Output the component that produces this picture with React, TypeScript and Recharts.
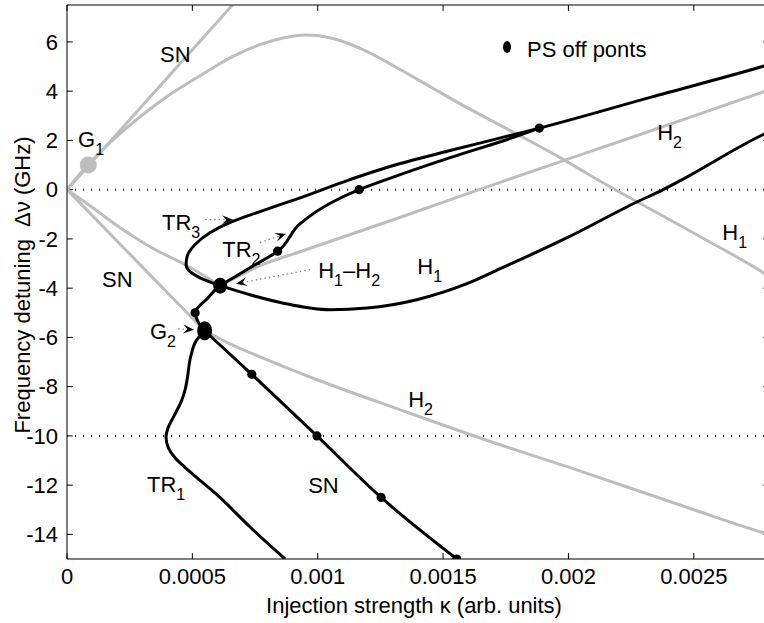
import React from 'react';
import {
  ComposedChart,
  Line,
  Scatter,
  XAxis,
  YAxis,
  ReferenceLine,
  Legend,
} from 'recharts';

type Pt = [number, number];

const FONT = '"Liberation Sans", Arial, Helvetica, sans-serif';
const GRAY = '#bdbdbd';

const X_MAX = 0.0028;
const Y_MIN = -15;
const Y_MAX = 7.5;
const xTicks = [0, 0.0005, 0.001, 0.0015, 0.002, 0.0025];
const yTicks = [-14, -12, -10, -8, -6, -4, -2, 0, 2, 4, 6];

// gray bifurcation lines
const snUpper: Pt[] = [[0, 0], [0.00066, 7.5]];
const h1Gray: Pt[] = [
  [0, 0], [0.000084, 1.02], [0.000132, 1.52], [0.000263, 2.72], [0.000399, 3.78],
  [0.000531, 4.63], [0.000662, 5.41], [0.00077, 5.89], [0.000862, 6.16], [0.00095, 6.28],
  [0.001061, 6.14], [0.001197, 5.61], [0.001329, 4.88], [0.001461, 4.11], [0.001596, 3.33],
  [0.001768, 2.4], [0.001967, 1.3], [0.002115, 0.41], [0.002259, -0.41], [0.002526, -1.91],
  [0.002777, -3.37], [0.0028, -3.52],
];
const h2GrayLeft: Pt[] = [
  [0, 0], [0.000092, -0.65], [0.000212, -1.55], [0.000331, -2.32], [0.000479, -3.09], [0.000611, -3.9],
];
const h2GrayRight: Pt[] = [
  [0.000611, -3.9], [0.00069, -3.48], [0.00077, -3.09], [0.00093, -2.52], [0.00133, -1.12],
  [0.00175, 0.38], [0.00226, 2.15], [0.00278, 3.98], [0.0028, 4.05],
];
const snGrayLower: Pt[] = [[0, 0], [0.000331, -3.46], [0.000549, -5.73]];
const h2GrayLower: Pt[] = [
  [0.000549, -5.73], [0.00065, -6.26], [0.00077, -6.79], [0.000998, -7.72], [0.001329, -8.94],
  [0.00173, -10.37], [0.00201, -11.3], [0.0025, -13.0], [0.00278, -13.94], [0.0028, -14.0],
];

// black lines
const tr3Loop: Pt[] = [
  [0.0028, 5.08], [0.002777, 5.01], [0.00233, 3.76], [0.001884, 2.5], [0.001768, 2.2],
  [0.001528, 1.59], [0.001329, 1.06], [0.001129, 0.41], [0.00093, -0.33], [0.00077, -0.89],
  [0.000658, -1.3], [0.00057, -1.75], [0.00051, -2.24], [0.000479, -2.72], [0.000475, -3.05],
  [0.000491, -3.33], [0.000531, -3.58], [0.000611, -3.9],
];
const h1Black: Pt[] = [
  [0.000611, -3.9], [0.00073, -4.27], [0.000863, -4.61], [0.001049, -4.88], [0.001197, -4.81],
  [0.001395, -4.47], [0.001595, -3.82], [0.001728, -3.21], [0.001995, -1.95], [0.002275, -0.49],
  [0.002378, 0], [0.002454, 0.41], [0.002777, 2.24], [0.0028, 2.35],
];
const tr2: Pt[] = [
  [0.001884, 2.5], [0.001768, 2.08], [0.001528, 1.3], [0.001329, 0.61], [0.001165, 0],
  [0.001061, -0.49], [0.00093, -1.38], [0.00084, -2.5], [0.00073, -3.17], [0.00065, -3.66],
  [0.000611, -3.9], [0.000559, -4.43], [0.000511, -5.0], [0.000522, -5.35], [0.000549, -5.73],
];
const tr1: Pt[] = [
  [0.000549, -5.73], [0.000515, -6.14], [0.000495, -6.71], [0.000479, -7.72], [0.000471, -8.13],
  [0.000455, -8.62], [0.000427, -9.19], [0.000403, -9.67], [0.000395, -10.04], [0.000403, -10.45],
  [0.000431, -10.89], [0.000491, -11.46], [0.000599, -12.4], [0.00073, -13.7], [0.00087, -15.0],
];
const snBlack: Pt[] = [
  [0.000549, -5.73], [0.000737, -7.5], [0.000997, -10], [0.001253, -12.5], [0.001555, -15],
];

// PS off points and special points
const psOff: Pt[] = [
  [0.001884, 2.5], [0.001165, 0], [0.00084, -2.5], [0.000511, -5],
  [0.000737, -7.5], [0.000997, -10], [0.001253, -12.5], [0.001555, -15],
];
const g1Point: Pt[] = [[0.000085, 1.0]];
const g2Point: Pt[] = [[0.000549, -5.73]];
const h1h2Point: Pt[] = [[0.000611, -3.9]];

// curve labels: [main, subscript] parts, anchored at left baseline
const labelParts: [string, string][][] = [
  [['SN', '']], [['G', '1']], [['SN', '']], [['TR', '3']], [['TR', '2']],
  [['H', '1'], ['\u2013H', '2']], [['H', '1']], [['G', '2']], [['H', '2']],
  [['H', '1']], [['H', '2']], [['SN', '']], [['TR', '1']],
];
const labelAt: Pt[] = [
  [0.000371, 5.2], [0.000044, 1.75], [0.00014, -3.94], [0.000379, -1.63], [0.000619, -2.72],
  [0.001002, -3.58], [0.001397, -3.41], [0.000331, -6.06], [0.002354, 2.03],
  [0.002614, -2.03], [0.001361, -8.82], [0.000962, -12.32], [0.000319, -12.28],
];

// dotted pointer arrows
const arrowFrom: Pt[] = [[0.000551, -1.22], [0.00077, -2.15], [0.00097, -3.25], [0.000443, -5.65]];
const arrowTo: Pt[] = [[0.000662, -1.22], [0.000874, -1.79], [0.000674, -3.82], [0.000507, -5.69]];

const toRows = (pts: Pt[]) => pts.map(([x, y]) => ({ x, y }));
const labelRows = labelAt.map(([x, y], i) => ({ x, y, parts: labelParts[i] }));

// inward tick marks on all four sides (matlab style box)
const TICK_Y = 0.24;
const TICK_X = 0.000023;
const tickSegments: [Pt, Pt][] = [
  ...xTicks.map((x): [Pt, Pt] => [[x, Y_MIN], [x, Y_MIN + TICK_Y]]),
  ...xTicks.map((x): [Pt, Pt] => [[x, Y_MAX], [x, Y_MAX - TICK_Y]]),
  ...yTicks.map((y): [Pt, Pt] => [[0, y], [TICK_X, y]]),
  ...yTicks.map((y): [Pt, Pt] => [[X_MAX, y], [X_MAX - TICK_X, y]]),
];

const XTitle = (props: any) => {
  const vb = props.viewBox || { x: 67, y: 559, width: 702, height: 64 };
  return (
    <text x={vb.x + vb.width / 2 - 4} y={vb.y + 54} textAnchor="middle" fontSize={22} fill="#000">
      Injection strength κ (arb. units)
    </text>
  );
};

const YTitle = (props: any) => {
  const vb = props.viewBox || { x: 0, y: 5, width: 67, height: 554 };
  const cx = 22;
  const cy = vb.y + vb.height / 2 + 3;
  return (
    <text
      x={cx}
      y={cy}
      transform={`rotate(-90 ${cx} ${cy})`}
      textAnchor="middle"
      dominantBaseline="central"
      fontSize={22}
      fill="#000"
      style={{ whiteSpace: 'pre' }}
    >
      {'Frequency detuning  Δν (GHz)'}
    </text>
  );
};

const CurveLabel = (p: any) => {
  const parts: [string, string][] = p.payload.parts;
  const items: React.ReactNode[] = [];
  parts.forEach(([t, s], i) => {
    items.push(<tspan key={`t${i}`} dy={i > 0 && parts[i - 1][1] ? -8 : 0}>{t}</tspan>);
    if (s) items.push(<tspan key={`s${i}`} dy={8} fontSize={16}>{s}</tspan>);
  });
  return (
    <text x={p.cx} y={p.cy} fontSize={22} fill="#000">
      {items}
    </text>
  );
};

const Arrow = (p: any) => {
  const { x1, y1, x2, y2 } = p;
  const dx = x2 - x1;
  const dy = y2 - y1;
  const len = Math.hypot(dx, dy) || 1;
  const ux = dx / len;
  const uy = dy / len;
  const L = 11;
  const W = 4.5;
  const bx = x2 - ux * L;
  const by = y2 - uy * L;
  const nx = x2 - ux * L * 0.6;
  const ny = y2 - uy * L * 0.6;
  return (
    <g>
      <line x1={x1} y1={y1} x2={nx} y2={ny} stroke="#8a8a8a" strokeWidth={1.3} strokeDasharray="1.5 3" />
      <polygon
        points={`${x2},${y2} ${bx - uy * W},${by + ux * W} ${nx},${ny} ${bx + uy * W},${by - ux * W}`}
        fill="#000"
      />
    </g>
  );
};

const renderLegend = () => (
  <div style={{ display: 'flex', alignItems: 'flex-start', fontFamily: FONT, fontSize: 22, color: '#000' }}>
    <svg width={12} height={16} style={{ marginTop: 1.5 }}>
      <ellipse cx={6} cy={8} rx={4} ry={6} fill="#000" />
    </svg>
    <span style={{ marginLeft: 14, whiteSpace: 'nowrap' }}>PS off ponts</span>
  </div>
);

const grayLines: { pts: Pt[]; type: any }[] = [
  { pts: snUpper, type: 'linear' },
  { pts: h1Gray, type: 'monotoneX' },
  { pts: h2GrayLeft, type: 'monotoneX' },
  { pts: h2GrayRight, type: 'monotoneX' },
  { pts: snGrayLower, type: 'linear' },
  { pts: h2GrayLower, type: 'monotoneX' },
];
const blackLines: { pts: Pt[]; type: any }[] = [
  { pts: tr3Loop, type: 'monotoneY' },
  { pts: h1Black, type: 'monotoneX' },
  { pts: tr2, type: 'monotoneY' },
  { pts: tr1, type: 'monotoneY' },
  { pts: snBlack, type: 'monotoneX' },
];

export default function App() {
  return (
    <div
      style={{
        position: 'absolute',
        left: 0,
        top: 0,
        width: 764,
        height: 623,
        overflow: 'hidden',
        background: '#fff',
        fontFamily: FONT,
      }}
    >
      <ComposedChart width={780} height={623} margin={{ top: 4, right: 10, bottom: 0, left: 0 }}>
        <XAxis
          type="number"
          dataKey="x"
          domain={[0, X_MAX]}
          ticks={xTicks}
          interval={0}
          allowDataOverflow
          height={64}
          tickSize={-5}
          tickMargin={14}
          tickLine={false}
          stroke="#000"
          tick={{ fill: '#000', fontSize: 22 }}
          label={XTitle}
        />
        <XAxis
          xAxisId="top"
          orientation="top"
          type="number"
          dataKey="x"
          domain={[0, X_MAX]}
          ticks={xTicks}
          allowDataOverflow
          height={1}
          tickLine={false}
          tick={false}
          stroke="#000"
        />
        <YAxis
          type="number"
          dataKey="y"
          domain={[Y_MIN, Y_MAX]}
          ticks={yTicks}
          interval={0}
          allowDataOverflow
          width={67}
          tickSize={-5}
          tickMargin={14}
          tickLine={false}
          stroke="#000"
          tick={{ fill: '#000', fontSize: 22 }}
          label={YTitle}
        />
        <YAxis
          yAxisId="right"
          orientation="right"
          type="number"
          dataKey="y"
          domain={[Y_MIN, Y_MAX]}
          ticks={yTicks}
          allowDataOverflow
          width={1}
          tickLine={false}
          tick={false}
          stroke="#000"
        />
        <Legend
          content={renderLegend}
          layout="horizontal"
          verticalAlign="middle"
          align="center"
          wrapperStyle={{ left: 501, top: 37, width: 200, height: 26 }}
        />

        {tickSegments.map(([a, b], i) => (
          <ReferenceLine
            key={`t${i}`}
            segment={[{ x: a[0], y: a[1] }, { x: b[0], y: b[1] }]}
            ifOverflow="visible"
            stroke="#000"
            strokeWidth={1}
          />
        ))}

        <ReferenceLine y={0} stroke="#222" strokeWidth={2} strokeDasharray="1 7" />
        <ReferenceLine y={-10} stroke="#222" strokeWidth={2} strokeDasharray="1 7" />

        {grayLines.map(({ pts, type }, i) => (
          <Line
            key={`g${i}`}
            data={toRows(pts)}
            dataKey="y"
            type={type}
            stroke={GRAY}
            strokeWidth={3}
            dot={false}
            activeDot={false}
            legendType="none"
            isAnimationActive={false}
          />
        ))}
        {blackLines.map(({ pts, type }, i) => (
          <Line
            key={`b${i}`}
            data={toRows(pts)}
            dataKey="y"
            type={type}
            stroke="#000"
            strokeWidth={3}
            dot={false}
            activeDot={false}
            legendType="none"
            isAnimationActive={false}
          />
        ))}

        <Scatter
          data={toRows(g1Point)}
          isAnimationActive={false}
          legendType="none"
          shape={(p: any) => <circle cx={p.cx} cy={p.cy} r={8.5} fill={GRAY} />}
        />
        <Scatter
          data={toRows(psOff)}
          isAnimationActive={false}
          legendType="none"
          shape={(p: any) => <circle cx={p.cx} cy={p.cy} r={4.6} fill="#000" />}
        />
        <Scatter
          data={toRows(h1h2Point)}
          isAnimationActive={false}
          legendType="none"
          shape={(p: any) => <ellipse cx={p.cx} cy={p.cy} rx={7} ry={8} fill="#000" />}
        />
        <Scatter
          data={toRows(g2Point)}
          isAnimationActive={false}
          legendType="none"
          shape={(p: any) => <ellipse cx={p.cx} cy={p.cy} rx={7.5} ry={9.5} fill="#000" />}
        />

        {arrowFrom.map((from, i) => (
          <ReferenceLine
            key={`a${i}`}
            segment={[{ x: from[0], y: from[1] }, { x: arrowTo[i][0], y: arrowTo[i][1] }]}
            ifOverflow="visible"
            shape={Arrow}
          />
        ))}

        <Scatter
          data={labelRows}
          isAnimationActive={false}
          legendType="none"
          shape={CurveLabel}
        />
      </ComposedChart>
    </div>
  );
}
